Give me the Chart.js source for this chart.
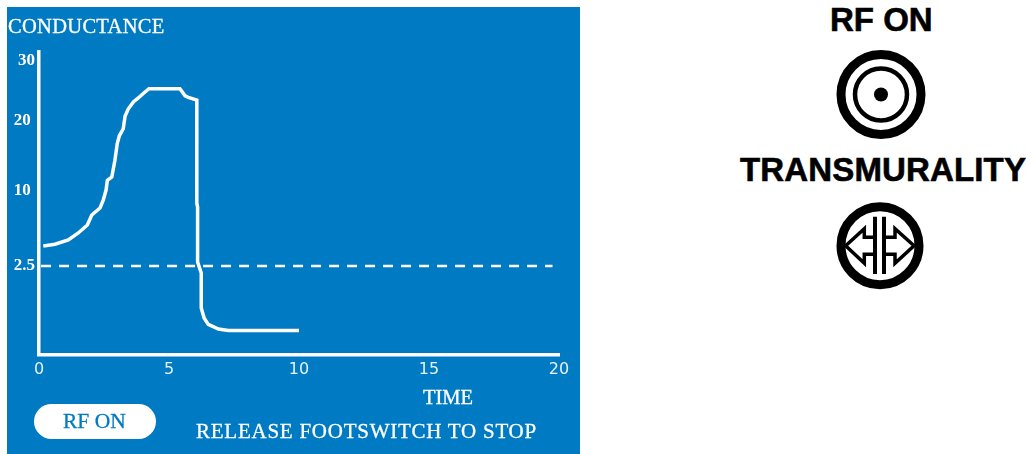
<!DOCTYPE html>
<html>
<head>
<meta charset="utf-8">
<style>
  html, body { margin: 0; padding: 0; background: #fff; overflow: hidden; }
  #panel { position: absolute; left: 7px; top: 7px; width: 573px; height: 447px; background: #007ac2; }
  #chart { position: absolute; left: 0; top: 0; }
  .lbl { position: absolute; white-space: nowrap; color: #fff; font-family: "Liberation Serif", serif; line-height: 1; -webkit-text-stroke: .3px; }
  #pill { position: absolute; left: 27px; top: 397px; width: 122px; height: 35px; border-radius: 18px; background: #fff; }
  .side { position: absolute; white-space: nowrap; color: #000; font-family: "Liberation Sans", sans-serif; font-weight: bold; line-height: 1; -webkit-text-stroke: .6px #000; }
  #icons { position: absolute; left: 0; top: 0; }
</style>
</head>
<body>
<div id="panel">
  <canvas id="chart" width="573" height="447"></canvas>
  <div class="lbl" style="left:1px;top:9px;font-size:20.5px;letter-spacing:.3px">CONDUCTANCE</div>
  <div class="lbl" style="left:416px;top:380px;font-size:20.5px">TIME</div>
  <div id="pill"></div>
  <div class="lbl" style="left:56px;top:404px;font-size:21.5px;color:#007ac2">RF ON</div>
  <div class="lbl" style="left:189px;top:414px;font-size:21px;letter-spacing:.75px">RELEASE FOOTSWITCH TO STOP</div>
</div>
<div class="side" style="left:830px;top:3px;font-size:33px">RF ON</div>
<div class="side" style="left:740px;top:153px;font-size:33px;letter-spacing:.15px">TRANSMURALITY</div>
<svg id="icons" width="1026" height="454" fill="none" stroke="#000">
  <circle cx="881" cy="94.5" r="40" stroke-width="9"/>
  <circle cx="881" cy="94.5" r="26" stroke-width="4.5"/>
  <circle cx="881" cy="94.5" r="7" fill="#000" stroke="none"/>
  <circle cx="880" cy="245.7" r="39" stroke-width="9"/>
  <path d="M875 216.7V274M884 216.7V274" stroke-width="4"/>
  <path d="M875 237.3H864.3V228.7L845.7 245.7L864.3 263.3V254.3H875M884 237.3H895V228.7L914 245.7L895 263.3V254.3H884" stroke-width="3.5"/>
</svg>

<script src="https://cdn.jsdelivr.net/npm/chart.js@4"></script>
<script>
// curve
const timeValues = [0.165, 0.615, 1.127, 1.51, 1.86, 2.03, 2.346, 2.47, 2.58, 2.63, 2.8, 2.92, 3.01, 3.09, 3.24, 3.31, 3.43, 3.63, 3.82, 4.01, 4.23, 5.42, 5.62, 5.74, 6.07, 6.07, 6.1, 6.1, 6.24, 6.24, 6.35, 6.51, 6.9, 7.28, 10.0];
const conductanceValues = [4.5, 4.67, 5.1, 5.8, 6.6, 7.6, 8.3, 9.1, 10.14, 11.55, 12.0, 14.4, 16.8, 17.9, 18.9, 20.8, 22.0, 23.2, 23.85, 24.6, 25.4, 25.4, 24.2, 23.95, 23.5, 8.8, 8.4, 2.9, 2.3, 1.32, 1.04, 0.86, 0.73, 0.69, 0.69];

// dashed threshold line
const thresholdTimes = [0.08, 19.75];
const thresholdValues = [2.5, 2.5];

const xTicks = [0, 5, 10, 15, 20];
const yTicks = [2.5, 10, 20, 30];
const yTickLabels = ['2.5', '10 ', '20 ', '30'];

// the y axis of the instrument is not linear, so it gets its own scale
const yKnotValues = [0, 2.5, 10, 20, 30, 31.33];
const yKnotFractions = [0, 0.294, 0.541, 0.772, 0.97, 1];

function interp(v, from, to) {
    let i = 0;
    while (i < from.length - 2 && v > from[i + 1]) i++;
    return to[i] + (v - from[i]) / (from[i + 1] - from[i]) * (to[i + 1] - to[i]);
}

class KnotScale extends Chart.LinearScale {
    getPixelForValue(value) {
        return this.getPixelForDecimal(interp(value, yKnotValues, yKnotFractions));
    }
    getValueForPixel(pixel) {
        return interp(this.getDecimalForPixel(pixel), yKnotFractions, yKnotValues);
    }
}
KnotScale.id = 'knot';
KnotScale.defaults = Chart.LinearScale.defaults;
Chart.register(KnotScale);

function toPoints(xs, ys) {
    return xs.map((x, i) => ({ x: x, y: ys[i] }));
}

new Chart(document.getElementById('chart').getContext('2d'), {
    type: 'line',
    data: {
        datasets: [{
            label: 'Conductance',
            data: toPoints(timeValues, conductanceValues),
            borderColor: '#fff',
            borderWidth: 3.5,
            pointRadius: 0,
            tension: 0
        }, {
            label: 'Threshold',
            data: toPoints(thresholdTimes, thresholdValues),
            borderColor: '#fff',
            borderWidth: 2.5,
            borderDash: [10, 8],
            pointRadius: 0
        }]
    },
    options: {
        responsive: false,
        animation: false,
        devicePixelRatio: 1,
        layout: { padding: { top: 45, right: 21 } },
        plugins: { legend: { display: false }, tooltip: { enabled: false } },
        scales: {
            x: {
                type: 'linear',
                min: 0,
                max: 20,
                grid: { display: false, drawTicks: false },
                border: { color: '#fff', width: 3.5 },
                afterBuildTicks: axis => { axis.ticks = xTicks.map(v => ({ value: v })); },
                afterFit: axis => { axis.height = 99; },
                ticks: {
                    autoSkip: false,
                    maxRotation: 0,
                    padding: 5,
                    color: '#e8f2fa',
                    font: { family: '"DejaVu Sans", Verdana, sans-serif', size: 16 }
                }
            },
            y: {
                type: 'knot',
                min: 0,
                max: 31.33,
                grid: { display: false, drawTicks: false },
                border: { color: '#fff', width: 3.5 },
                afterBuildTicks: axis => { axis.ticks = yTicks.map(v => ({ value: v })); },
                afterFit: axis => { axis.width = 32; },
                ticks: {
                    autoSkip: false,
                    padding: 4,
                    color: '#fff',
                    font: { family: 'Liberation Serif', size: 17, weight: 'bold' },
                    callback: (value, i) => yTickLabels[i]
                }
            }
        }
    }
});
</script>
</body>
</html>
